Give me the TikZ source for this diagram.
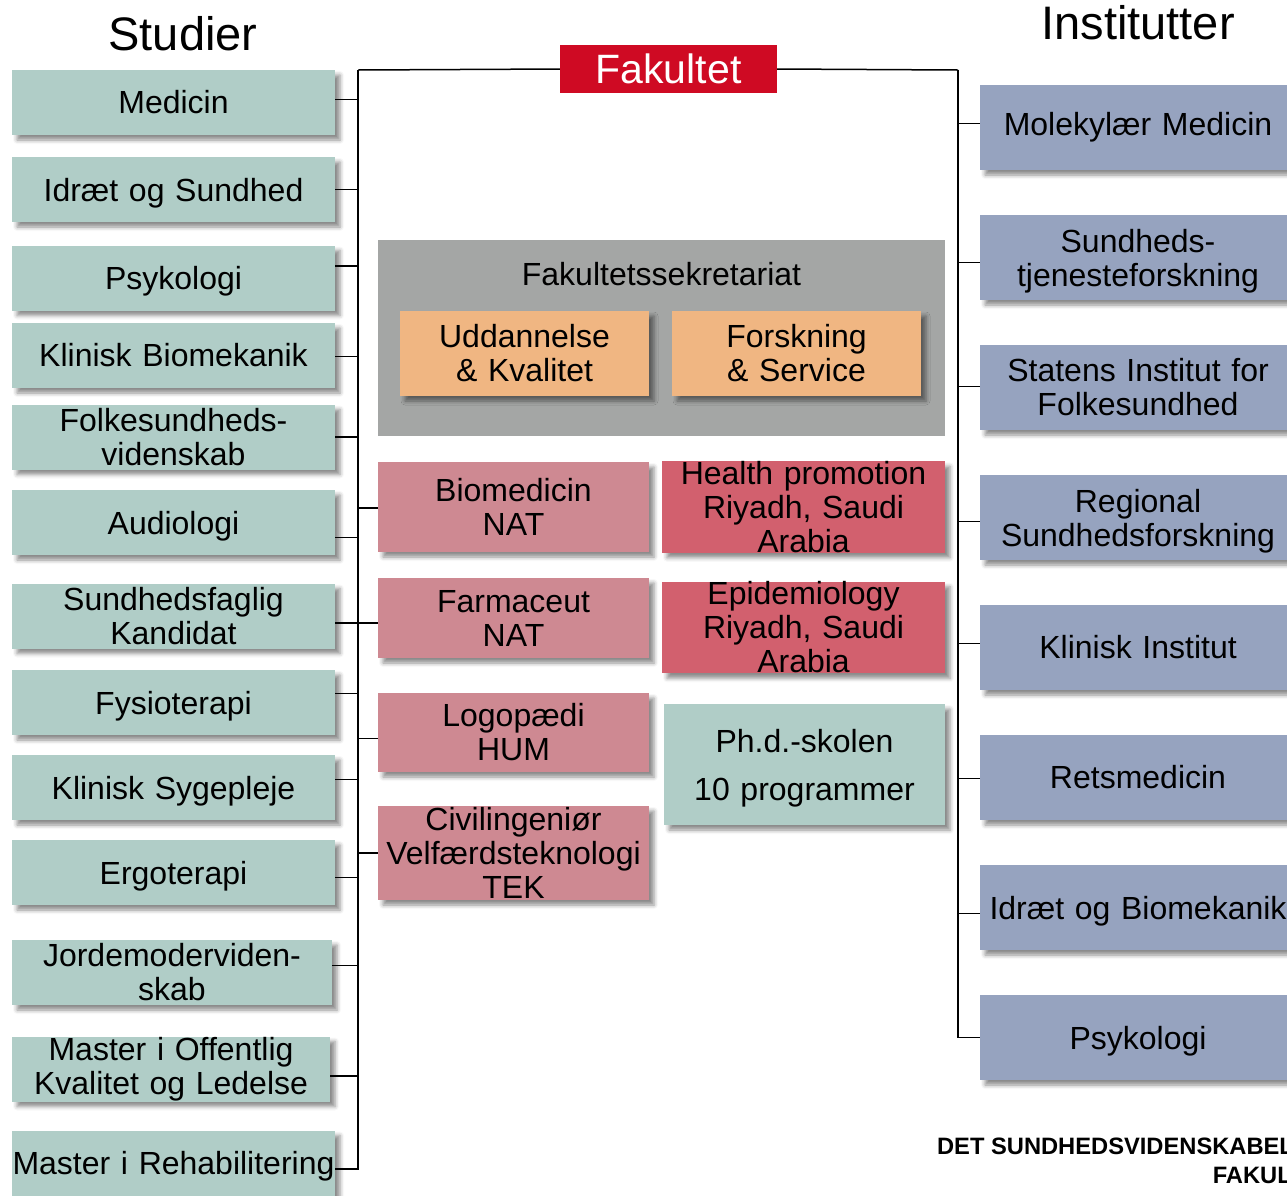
\documentclass[tikz,border=0pt]{standalone}
\usepackage{fontspec}
\setmainfont{Liberation Sans}
\usetikzlibrary{calc,shadows.blur}
\definecolor{studgreen}{HTML}{B0CDC7}
\definecolor{instblue}{HTML}{96A3BF}
\definecolor{secgrey}{HTML}{A4A6A5}
\definecolor{secorange}{HTML}{F0B682}
\definecolor{natpink}{HTML}{CE8992}
\definecolor{riyadhred}{HTML}{D2606E}
\definecolor{fakred}{HTML}{CF0A23}
\begin{document}
\begin{tikzpicture}[x=1pt,y=-1pt,
	every node/.style={align=center,inner sep=0pt,font=\fontsize{32}{34}\selectfont},
	single/.style={text depth=0pt},
	shade/.style={blur shadow={shadow xshift=5pt,shadow yshift=-5pt,shadow blur radius=4pt,shadow opacity=45}},
	studbox/.style={shade,fill=studgreen,text width=323pt,minimum height=65pt},
	instbox/.style={shade,fill=instblue,text width=316pt,minimum height=85pt},
	unitbox/.style={shade,fill=#1,text width=271pt},
	abroadbox/.style={shade,fill=riyadhred,text width=283pt,minimum height=90pt},
	title/.style={font=\fontsize{47}{50}\selectfont}]
	\useasboundingbox (0,0) rectangle (1287,1195);
	\clip (0,0) rectangle (1287,1195);
	\node[title] (studier) at (183,34) {Studier};
	\node[title] (institutter) at (1138,23) {Institutter};
	\node[fill=fakred,text=white,minimum width=217pt,minimum height=48pt,font=\fontsize{41}{44}\selectfont] (fak) at (668.5,69) {Fakultet};
	\node[studbox] (s1) at (173.5,102.5) {Medicin};
	\node[studbox,single] (s2) at (173.5,189.5) {Idræt og Sundhed};
	\node[studbox,single] (s3) at (173.5,278) {Psykologi};
	\node[studbox] (s4) at (173.5,355.5) {Klinisk Biomekanik};
	\node[studbox] (s5) at (173.5,437) {Folkesundheds-\\videnskab};
	\node[studbox,single] (s6) at (173.5,522.5) {Audiologi};
	\node[studbox] (s7) at (173.5,616) {Sundhedsfaglig\\Kandidat};
	\node[studbox,single] (s8) at (173.5,702.5) {Fysioterapi};
	\node[studbox,single] (s9) at (173.5,787.5) {Klinisk Sygepleje};
	\node[studbox,single] (s10) at (173.5,872.5) {Ergoterapi};
	\node[studbox,text width=320pt] (s11) at (172,972.5) {Jordemoderviden-\\skab};
	\node[studbox,text width=318pt] (s12) at (171,1069) {Master i Offentlig\\Kvalitet og Ledelse};
	\node[studbox,single] (s13) at (173.5,1163) {Master i Rehabilitering};
	\node[fill=secgrey,minimum width=567pt,minimum height=196pt] (sek) at (661.5,338) {};
	\node (sektitle) at (661.5,274) {Fakultetssekretariat};
	\node[shade,fill=secorange,text width=249pt,minimum height=85pt] (ud) at (524.5,353.5) {Uddannelse\\\& Kvalitet};
	\node[shade,fill=secorange,text width=249pt,minimum height=85pt] (fs) at (796.5,353.5) {Forskning\\\& Service};
	\node[unitbox=natpink,minimum height=90pt] (bio) at (513.5,507) {Biomedicin\\NAT};
	\node[unitbox=natpink,minimum height=80pt] (farm) at (513.5,618) {Farmaceut\\NAT};
	\node[unitbox=natpink,minimum height=79pt] (logo) at (513.5,732.5) {Logopædi\\HUM};
	\node[unitbox=natpink,minimum height=94pt] (civ) at (513.5,853) {Civilingeniør\\Velfærdsteknologi\\TEK};
	\node[abroadbox] (hp) at (803.5,507) {Health promotion\\Riyadh, Saudi\\Arabia};
	\node[abroadbox] (epi) at (803.5,627.5) {Epidemiology\\Riyadh, Saudi\\Arabia};
	\node[shade,fill=studgreen,text width=281pt,minimum height=121pt,text depth=48pt,font=\fontsize{32}{48}\selectfont] (phd) at (804.5,764.5) {Ph.d.-skolen\\10 programmer};
	\node[instbox] (i1) at (1138,127.5) {Molekylær Medicin};
	\node[instbox,text depth=34pt] (i2) at (1138,257.5) {Sundheds-\\tjenesteforskning};
	\node[instbox] (i3) at (1138,387.5) {Statens Institut for\\Folkesundhed};
	\node[instbox,text depth=34pt] (i4) at (1138,517.5) {Regional\\Sundhedsforskning};
	\node[instbox] (i5) at (1138,647.5) {Klinisk Institut};
	\node[instbox] (i6) at (1138,777.5) {Retsmedicin};
	\node[instbox,single] (i7) at (1138,907.5) {Idræt og Biomekanik};
	\node[instbox,single] (i8) at (1138,1037.5) {Psykologi};
	\node[anchor=north east,align=right,font=\bfseries\fontsize{23.7}{29}\selectfont] (sdu) at (1335,1138) {DET SUNDHEDSVIDENSKABELIGE\\FAKULTET};
	\coordinate (lbus) at (358,70);
	\coordinate (rbus) at (958,70);
	\draw[line width=1.5pt] (fak.west) -- (lbus);
	\draw[line width=1.5pt] (fak.east) -- (rbus);
	\foreach \n/\dy in {s1/-3,s2/0,s3/-12,s4/1,s5/0,s6/15,s7/7,s8/-9,s9/-8,s10/5,s11/-7,s12/7,s13/6}
	\draw[line width=1.5pt] ($(\n.east)+(0,\dy)$) -| (lbus);
	\foreach \n/\dy in {bio/1,farm/5,logo/6,civ/0}
	\draw[line width=1.5pt] ($(\n.west)+(0,\dy)$) -| (lbus);
	\foreach \n/\dy in {i1/-4,i2/5,i3/-1,i4/4,i5/-4,i6/1,i7/6,i8/0}
	\draw[line width=1.5pt] ($(\n.west)+(0,\dy)$) -| (rbus);
\end{tikzpicture}
\end{document}
